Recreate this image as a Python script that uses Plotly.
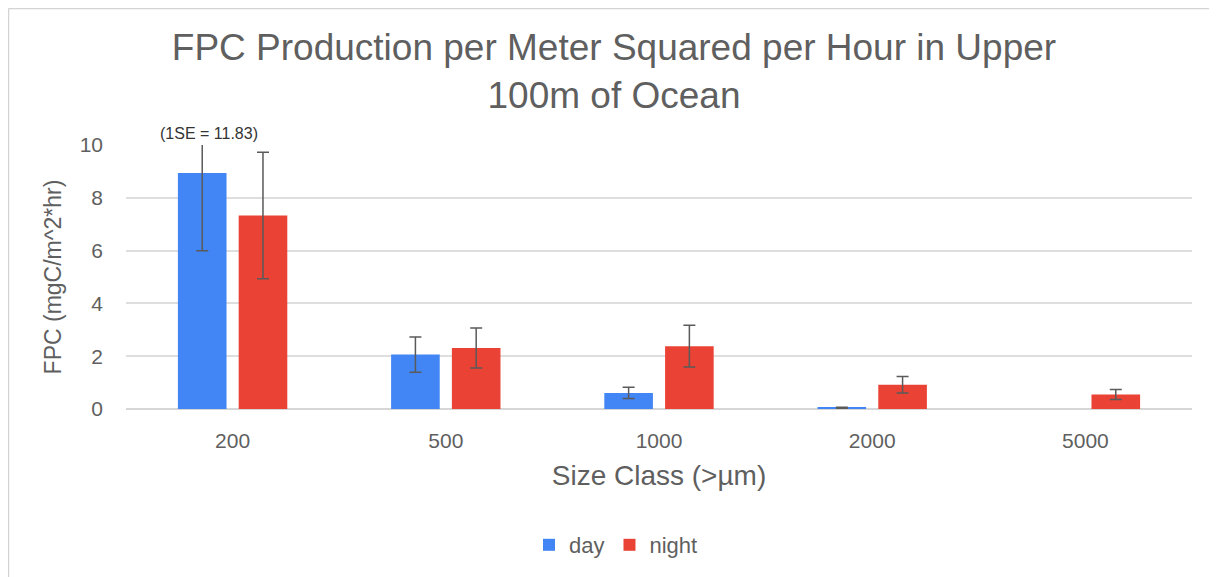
import plotly.graph_objects as go

categories = ["200", "500", "1000", "2000", "5000"]
day = [8.94, 2.06, 0.61, 0.05, None]
day_err = [2.95, 0.67, 0.21, 0.02, None]
night = [7.33, 2.31, 2.38, 0.92, 0.55]
night_err = [2.40, 0.76, 0.79, 0.31, 0.19]
y_ticks = [0, 2, 4, 6, 8, 10]

# page body has an 8px offset, so figure coords = screen coords - 8
W, H = 1209, 569
L, R, T, B = 118, 25, 137, 168
pw, ph = W - L - R, H - T - B

grey = "#5f5f5f"
err_col = "#5a5a5a"

fig = go.Figure()
fig.add_trace(go.Bar(
    name="day", x=categories, y=day, marker_color="#4285F4",
    marker_line_width=0,
    error_y=dict(type="data", array=day_err, visible=True, color=err_col, thickness=1.5, width=6),
))
fig.add_trace(go.Bar(
    name="night", x=categories, y=night, marker_color="#EA4335",
    marker_line_width=0,
    error_y=dict(type="data", array=night_err, visible=True, color=err_col, thickness=1.5, width=6),
))

fig.update_layout(
    width=W, height=H,
    margin=dict(l=L, r=R, t=T, b=B, autoexpand=False),
    paper_bgcolor="white", plot_bgcolor="white",
    font=dict(family="Liberation Sans, Arial, sans-serif", color=grey),
    barmode="group", bargap=0.43, bargroupgap=0.2,
    title=dict(
        text="FPC Production per Meter Squared per Hour in Upper<br>100m of Ocean",
        x=606 / W, xanchor="center", y=1 - 52 / H, yanchor="top",
        font=dict(size=37, color=grey),
    ),
    xaxis=dict(
        type="category", showgrid=False, showline=False, ticks="",
        tickfont=dict(size=21, color=grey), ticklabelstandoff=17,
        title=dict(text="Size Class (>µm)", font=dict(size=28, color=grey), standoff=14),
    ),
    yaxis=dict(
        range=[0, 10], tickvals=y_ticks, showgrid=True, gridcolor="#dedede", gridwidth=1.5,
        zeroline=True, zerolinecolor="#d6d6d6", zerolinewidth=1.5, showline=False,
        ticks="", tickfont=dict(size=21, color=grey), ticklabelstandoff=22,
        title=dict(text="FPC (mgC/m^2*hr)", font=dict(size=23, color=grey), standoff=11),
    ),
    legend=dict(
        orientation="h", x=608 / W, xanchor="center", xref="container",
        y=1 - 537 / H, yanchor="middle", yref="container",
        font=dict(size=22, color=grey), itemwidth=30, traceorder="normal",
    ),
    showlegend=True,
)

fig.add_annotation(
    text="(1SE = 11.83)", x=(201 - L) / pw, y=(401 - 125) / ph, xref="paper", yref="paper",
    xanchor="center", yanchor="middle",
    showarrow=False, font=dict(size=16, color="#333333"),
)

# outer thin border (top & left visible)
fig.add_shape(type="line", xref="paper", yref="paper",
              x0=(0.5 - L) / pw, x1=(W + 5 - L) / pw, y0=(401 - 0.5) / ph, y1=(401 - 0.5) / ph,
              line=dict(color="#d4d4d4", width=1.5))
fig.add_shape(type="line", xref="paper", yref="paper",
              x0=(0.5 - L) / pw, x1=(0.5 - L) / pw, y0=(401 - 0.5) / ph, y1=(401 - H - 5) / ph,
              line=dict(color="#d4d4d4", width=1.5))

fig.write_html("out.html")
